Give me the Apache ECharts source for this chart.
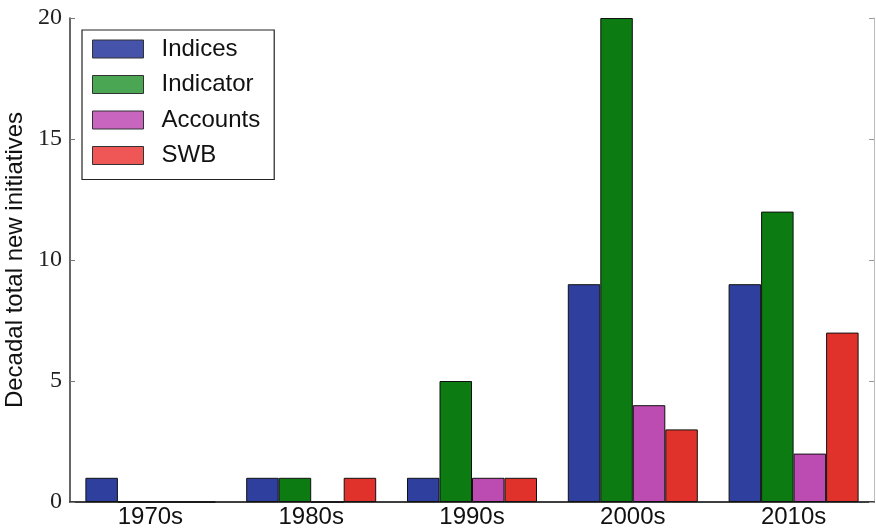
<!DOCTYPE html>
<html>
<head>
<meta charset="utf-8">
<script src="https://cdn.jsdelivr.net/npm/echarts@6/dist/echarts.min.js"></script>
<style>
  html, body { margin: 0; padding: 0; background: #fff; }
  #chart { width: 876px; height: 531px; }
</style>
</head>
<body>
<div id="chart"></div>
<script>
// Decades on the x axis
const decades = ['1970s', '1980s', '1990s', '2000s', '2010s'];
// New initiatives per decade, by type
const indices   = [1, 1, 1, 9, 9];
const indicator = [0, 1, 5, 20, 12];
const accounts  = [0, 0, 1, 4, 2];
const swb       = [0, 1, 1, 3, 7];
const seriesNames = ['Indices', 'Indicator', 'Accounts', 'SWB'];
const yTicks = [0, 5, 10, 15, 20];

const barColors    = ['#2f3f9e', '#0b7b12', '#bd4cb2', '#e0322a'];
const legendColors = ['#4653ab', '#4ba653', '#c765bf', '#ef5757'];
const axisColor = '#333';

const chart = echarts.init(document.getElementById('chart'), null, { renderer: 'canvas' });

const values = [indices, indicator, accounts, swb];
const series = seriesNames.map((name, i) => ({
  name: name,
  type: 'bar',
  data: values[i],
  barWidth: 32.5,
  barGap: '0%',
  itemStyle: { color: barColors[i], borderColor: '#111', borderWidth: 1 }
}));

chart.setOption({
  animation: false,
  grid: { left: 70, right: 2, top: 18, bottom: 29, containLabel: false, outerBoundsMode: 'none' },
  legend: {
    orient: 'vertical',
    left: 82, top: 30,
    padding: [7, 14, 12, 10],
    itemWidth: 51, itemHeight: 18, itemGap: 11.5,
    borderColor: '#222', borderWidth: 1.2,
    backgroundColor: '#fff',
    selectedMode: false,
    icon: 'rect',
    textStyle: { fontFamily: 'Liberation Sans', fontSize: 24, color: '#111', padding: [0, 0, 0, 13] },
    data: seriesNames.map((n, i) => ({
      name: n,
      itemStyle: { color: legendColors[i], borderColor: '#333', borderWidth: 1 }
    }))
  },
  xAxis: [
    {
      type: 'category', data: decades, position: 'bottom',
      axisLine: { lineStyle: { color: axisColor, width: 1.5 } },
      axisTick: { inside: true, alignWithLabel: true, length: 5, lineStyle: { color: '#777' } },
      axisLabel: { fontFamily: 'Liberation Sans', fontSize: 24, color: '#111', margin: 3 }
    },
    {
      type: 'category', data: decades, position: 'top',
      axisLine: { lineStyle: { color: axisColor, width: 1.5 } },
      axisTick: { inside: true, alignWithLabel: true, length: 5, lineStyle: { color: '#777' } },
      axisLabel: { show: false }
    }
  ],
  yAxis: [
    {
      type: 'value', min: 0, max: 20, interval: 5, position: 'left',
      name: 'Decadal total new initiatives',
      nameLocation: 'middle', nameGap: 40, nameRotate: 90,
      nameTextStyle: { fontFamily: 'Liberation Sans', fontSize: 24, color: '#111' },
      axisLine: { show: true, lineStyle: { color: axisColor, width: 1.5 } },
      axisTick: { show: true, inside: true, length: 5, lineStyle: { color: '#777' } },
      axisLabel: {
        fontFamily: 'Liberation Serif', fontSize: 24, color: '#222', margin: 8,
        formatter: v => yTicks.includes(v) ? String(v) : ''
      },
      splitLine: { show: false }
    },
    {
      type: 'value', min: 0, max: 20, interval: 5, position: 'right',
      axisLine: { show: true, lineStyle: { color: '#bbb', width: 1 } },
      axisTick: { show: true, inside: true, length: 5, lineStyle: { color: '#999' } },
      axisLabel: { show: false },
      splitLine: { show: false }
    }
  ],
  series: series
});
</script>
</body>
</html>
